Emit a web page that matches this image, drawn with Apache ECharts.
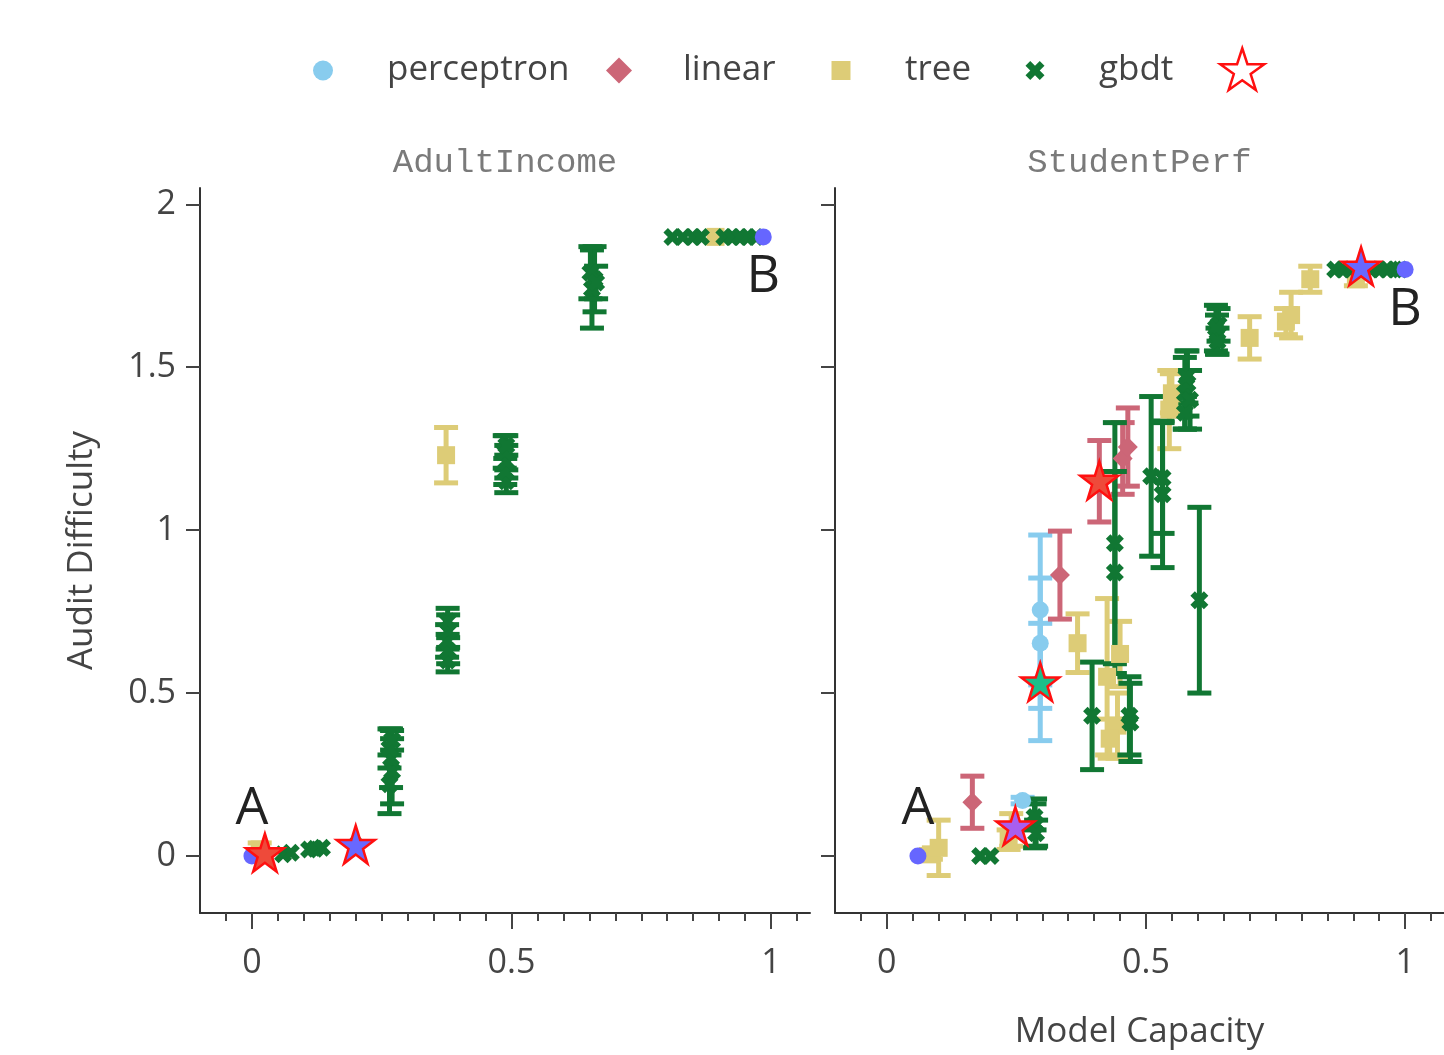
<!DOCTYPE html>
<html><head><meta charset="utf-8">
<script src="https://cdn.jsdelivr.net/npm/echarts@6/dist/echarts.min.js"></script>
<style>html,body{margin:0;padding:0;background:#fff}#c{width:1444px;height:1055px}</style>
</head><body><div id="c"></div>
<script>
// ---------- DATA ----------
const panelTitles = ['AdultIncome', 'StudentPerf'];
const methods = ['perceptron', 'linear', 'tree', 'gbdt'];
const yTicks = [0, 0.5, 1, 1.5, 2];
const xTicks = [0, 0.5, 1];
const xMinorTicks = [-0.05, 0, 0.05, 0.1, 0.15, 0.2, 0.25, 0.3, 0.35, 0.4, 0.45, 0.5,
  0.55, 0.6, 0.65, 0.7, 0.75, 0.8, 0.85, 0.9, 0.95, 1, 1.05];
const xAxisTitle = 'Model Capacity';
const yAxisTitle = 'Audit Difficulty';

// [capacity, difficulty, error]
const adultPerceptron = [];
const adultLinear = [];
const adultTree = [[0.015, 0.02, 0.02], [0.374, 1.23, 0.085], [0.893, 1.90, 0]];
const adultGbdt = [
  [0.06, 0.005, 0], [0.075, 0.01, 0], [0.11, 0.02, 0], [0.122, 0.022, 0], [0.135, 0.025, 0], [0.2, 0.03, 0],
  [0.265, 0.22, 0.09], [0.27, 0.26, 0.1], [0.268, 0.30, 0.09], [0.265, 0.33, 0.06], [0.27, 0.355, 0.03],
  [0.377, 0.60, 0.035], [0.378, 0.63, 0.04], [0.376, 0.66, 0.05], [0.378, 0.69, 0.05], [0.377, 0.72, 0.04],
  [0.49, 1.15, 0.035], [0.488, 1.18, 0.04], [0.49, 1.21, 0.05], [0.487, 1.24, 0.05], [0.49, 1.26, 0.03],
  [0.655, 1.74, 0.12], [0.66, 1.77, 0.1], [0.652, 1.79, 0.08], [0.663, 1.76, 0.05],
  [0.81, 1.90, 0], [0.83, 1.90, 0], [0.85, 1.90, 0], [0.865, 1.90, 0],
  [0.91, 1.90, 0], [0.925, 1.90, 0], [0.94, 1.90, 0], [0.955, 1.90, 0], [0.97, 1.90, 0]
];
const adultStars = [[0.025, 0.01], [0.2, 0.035]];
const adultEnds = [[0.0, 0.0], [0.985, 1.90]];

const studentPerceptron = [[0.262, 0.17, 0.01], [0.296, 0.755, 0.23], [0.296, 0.653, 0.2], [0.296, 0.534, 0.18]];
const studentLinear = [[0.165, 0.165, 0.08], [0.334, 0.862, 0.135], [0.41, 1.15, 0.125],
  [0.455, 1.22, 0.11], [0.465, 1.255, 0.12]];
const studentTree = [
  [0.085, 0.005, 0.015], [0.1, 0.025, 0.085], [0.235, 0.05, 0.03], [0.24, 0.08, 0.05],
  [0.368, 0.653, 0.09], [0.425, 0.55, 0.24], [0.45, 0.62, 0.1], [0.445, 0.40, 0.1], [0.43, 0.36, 0.06],
  [0.545, 1.37, 0.12], [0.55, 1.42, 0.06], [0.7, 1.59, 0.065], [0.77, 1.64, 0.04], [0.78, 1.66, 0.07],
  [0.817, 1.77, 0.04], [0.905, 1.77, 0.02]
];
const studentGbdt = [
  [0.18, 0.0, 0], [0.2, 0.0, 0],
  [0.286, 0.1, 0.075], [0.288, 0.07, 0.04], [0.285, 0.12, 0.04],
  [0.396, 0.43, 0.165], [0.44, 0.96, 0.37], [0.44, 0.87, 0.31],
  [0.468, 0.43, 0.12], [0.47, 0.41, 0.12],
  [0.51, 1.165, 0.245], [0.532, 1.16, 0.17], [0.532, 1.11, 0.225], [0.603, 0.785, 0.285],
  [0.575, 1.42, 0.11], [0.58, 1.45, 0.1], [0.585, 1.40, 0.09], [0.578, 1.47, 0.08], [0.575, 1.36, 0.05],
  [0.637, 1.60, 0.06], [0.64, 1.63, 0.05], [0.635, 1.62, 0.07], [0.638, 1.58, 0.04],
  [0.865, 1.80, 0], [0.88, 1.80, 0], [0.895, 1.80, 0], [0.935, 1.80, 0], [0.95, 1.80, 0],
  [0.965, 1.80, 0], [0.98, 1.80, 0], [0.99, 1.80, 0]
];
const studentStars = [[0.248, 0.092], [0.296, 0.534], [0.41, 1.153], [0.915, 1.81]];
const studentEnds = [[0.06, 0.0], [1.0, 1.80]];
const endLabels = ['A', 'B'];

// ---------- STYLE ----------
const COLORS = {perceptron: '#88CCEE', linear: '#CC6677', tree: '#DDCC77', gbdt: '#117733'};
const X_PATH = 'path://M0,5 L5,0 L10,5 L15,0 L20,5 L15,10 L20,15 L15,20 L10,15 L5,20 L0,15 L5,10 Z';
const STAR_PATH = 'path://M50,0 L61.2,34.5 L97.6,34.5 L68.2,55.9 L79.4,90.5 L50,69.1 L20.6,90.5 L31.8,55.9 L2.4,34.5 L38.8,34.5 Z';
const SYMBOLS = {perceptron: 'circle', linear: 'diamond', tree: 'rect', gbdt: X_PATH};
const SIZES = {perceptron: 17, linear: 20, tree: 18, gbdt: 18};
const LEGEND_ICON = {perceptron: 20, linear: 26, tree: 19, gbdt: 19};
const LEGEND_CENTER = {perceptron: 323, linear: 619, tree: 841, gbdt: 1035};
const adultStarFill = ['#ee4a3a', '#6868ff'];
const studentStarFill = ['#a85ef0', '#1cbf8a', '#ee4a3a', '#6868ff'];
const FONT = 'Open Sans';

const panels = [
  {perceptron: adultPerceptron, linear: adultLinear, tree: adultTree, gbdt: adultGbdt,
   stars: adultStars, starFill: adultStarFill, ends: adultEnds},
  {perceptron: studentPerceptron, linear: studentLinear, tree: studentTree, gbdt: studentGbdt,
   stars: studentStars, starFill: studentStarFill, ends: studentEnds}
];

function makeErr(color) {
  return function (params, api) {
    const x = api.value(0), y = api.value(1), e = api.value(2);
    const t = api.coord([x, y + e]);
    const b = api.coord([x, y - e]);
    const hw = 12;
    const st = {stroke: color, lineWidth: 5, fill: null};
    return {type: 'group', children: [
      {type: 'line', shape: {x1: t[0], y1: t[1], x2: b[0], y2: b[1]}, style: st},
      {type: 'line', shape: {x1: t[0] - hw, y1: t[1], x2: t[0] + hw, y2: t[1]}, style: st},
      {type: 'line', shape: {x1: b[0] - hw, y1: b[1], x2: b[0] + hw, y2: b[1]}, style: st}
    ]};
  };
}

const grids = [
  {left: 200, top: 188, width: 610, height: 725},
  {left: 835, top: 188, width: 609, height: 725}
];
const axisLineStyle = {color: '#333', width: 2};
const xAxes = [], yAxes = [];
grids.forEach((g, gi) => {
  xAxes.push({
    type: 'value', gridIndex: gi, min: -0.1, max: 1.075, position: 'bottom',
    axisLine: {show: true, onZero: false, lineStyle: axisLineStyle},
    axisTick: {show: true, customValues: xTicks, length: 16, lineStyle: {color: '#444', width: 2}},
    axisLabel: {show: true, customValues: xTicks, margin: 33, fontSize: 34, fontFamily: FONT, color: '#444'},
    splitLine: {show: false},
    name: gi === 1 ? xAxisTitle : '', nameLocation: 'middle', nameGap: 102,
    nameTextStyle: {fontSize: 35, fontFamily: FONT, color: '#444'}
  });
  xAxes.push({
    type: 'value', gridIndex: gi, min: -0.1, max: 1.075, position: 'bottom', offset: 0,
    axisLine: {show: false, onZero: false},
    axisTick: {show: true, customValues: xMinorTicks, length: 8, lineStyle: {color: '#444', width: 2}},
    axisLabel: {show: false}, splitLine: {show: false}
  });
  yAxes.push({
    type: 'value', gridIndex: gi, min: -0.175, max: 2.05, position: 'left',
    axisLine: {show: true, onZero: false, lineStyle: axisLineStyle},
    axisTick: {show: true, customValues: yTicks, length: 14, lineStyle: {color: '#444', width: 2}},
    axisLabel: {show: gi === 0, customValues: yTicks, margin: 24, fontSize: 34, fontFamily: FONT, color: '#444'},
    splitLine: {show: false},
    name: gi === 0 ? yAxisTitle : '', nameLocation: 'middle', nameGap: 100,
    nameTextStyle: {fontSize: 35, fontFamily: FONT, color: '#444'}
  });
});

const series = [];
panels.forEach((pd, gi) => {
  const xi = gi * 2;
  methods.forEach(m => {
    series.push({
      type: 'custom', name: m + ' err', xAxisIndex: xi, yAxisIndex: gi,
      renderItem: makeErr(COLORS[m]), encode: {x: 0, y: 1},
      data: pd[m].filter(d => d[2] > 0), silent: true
    });
    series.push({
      type: 'scatter', name: m, xAxisIndex: xi, yAxisIndex: gi,
      symbol: SYMBOLS[m], symbolSize: SIZES[m],
      itemStyle: {color: COLORS[m], opacity: 1},
      data: pd[m].map(d => [d[0], d[1]]), silent: true
    });
  });
  series.push({
    type: 'scatter', name: 'ends', xAxisIndex: xi, yAxisIndex: gi,
    symbol: 'circle', symbolSize: 17, itemStyle: {color: '#6666ff', opacity: 1}, silent: true,
    data: pd.ends.map((d, i) => ({
      value: d,
      label: {show: true, formatter: endLabels[i], position: i === 0 ? 'top' : 'bottom',
        distance: i === 0 ? 12 : 6, fontSize: 52, fontFamily: FONT, color: '#222'}
    }))
  });
  series.push({
    type: 'scatter', name: 'star', xAxisIndex: xi, yAxisIndex: gi,
    symbol: STAR_PATH, symbolSize: 38, silent: true,
    itemStyle: {borderColor: '#ff1010', borderWidth: 2.5, opacity: 1},
    data: pd.stars.map((d, i) => ({value: d, itemStyle: {color: pd.starFill[i]}}))
  });
});

const legends = methods.map(m => {
  const w = LEGEND_ICON[m];
  return {
    data: [m], left: LEGEND_CENTER[m] - w / 2, top: 53, height: 42, padding: 0,
    itemWidth: w, itemHeight: w, selectedMode: false,
    textStyle: {fontSize: 35, fontFamily: FONT, color: '#444', padding: [0, 0, 0, 64 - w / 2 - 5]}
  };
});
legends.push({
  data: [{name: 'star', icon: STAR_PATH, itemStyle: {color: '#ffffff', borderColor: '#ff1010', borderWidth: 2.5}}],
  left: 1219, top: 47, padding: 0, itemWidth: 44, itemHeight: 44, selectedMode: false,
  formatter: () => '', textStyle: {fontSize: 10}
});

const option = {
  animation: false,
  backgroundColor: '#fff',
  grid: grids,
  xAxis: xAxes,
  yAxis: yAxes,
  legend: legends,
  graphic: panelTitles.map((t, i) => ({
    type: 'text', x: grids[i].left + grids[i].width / 2, y: 163,
    style: {text: t, textAlign: 'center', textVerticalAlign: 'middle',
      font: 'normal 34px "Liberation Mono", monospace', fill: '#7a7a7a'}
  })),
  series: series
};
const chart = echarts.init(document.getElementById('c'), null, {renderer: 'canvas'});
chart.setOption(option);
</script>
</body></html>
